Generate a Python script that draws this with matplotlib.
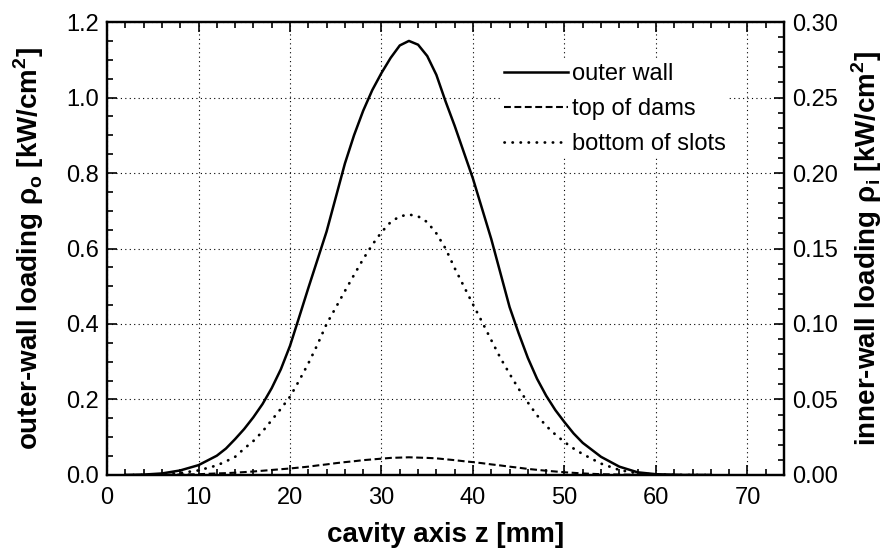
import matplotlib
matplotlib.use("Agg")
import matplotlib.pyplot as plt
from matplotlib.ticker import MultipleLocator

plt.rcParams["font.family"] = ["Liberation Sans", "DejaVu Sans"]
plt.rcParams["mathtext.fontset"] = "custom"
plt.rcParams["mathtext.rm"] = "Liberation Sans"
plt.rcParams["mathtext.bf"] = "Liberation Sans:bold"

# cavity axis position [mm]
z = [2, 4, 6, 8, 10, 12, 13,
     14, 15, 16, 17, 18, 19, 20, 21, 22, 23, 24, 25, 26, 27, 28, 29, 30,
     31, 32, 33, 34, 35, 36, 37, 38, 39, 40, 41, 42, 43, 44, 45, 46, 47,
     48, 49, 50, 51, 52,
     54, 56, 58, 60, 63, 66]

# outer-wall loading [kW/cm2] (left axis)
outer_wall = [0.0, 0.001, 0.004, 0.012, 0.026, 0.051, 0.07,
              0.095, 0.122, 0.153, 0.188, 0.23, 0.28, 0.342, 0.418, 0.495,
              0.57, 0.645, 0.735, 0.825, 0.90, 0.965, 1.02, 1.065,
              1.105, 1.138, 1.150, 1.140, 1.110, 1.06, 0.99, 0.925, 0.855,
              0.785, 0.705, 0.625, 0.535, 0.445, 0.375, 0.31, 0.255,
              0.21, 0.172, 0.14, 0.11, 0.085,
              0.048, 0.022, 0.007, 0.002, 0.0, 0.0]

# inner-wall loading [kW/cm2] (right axis)
top_of_dams = [0.0, 0.0, 0.0001, 0.0003, 0.0005, 0.001, 0.0012,
               0.0015, 0.0019, 0.0023, 0.0028, 0.0033, 0.0038, 0.0043,
               0.0049, 0.0055, 0.0063, 0.007, 0.0078, 0.0085, 0.0091,
               0.0098, 0.0103, 0.0108, 0.0113, 0.0115, 0.0117, 0.0115,
               0.0113, 0.011, 0.0104, 0.0098, 0.0091, 0.0085, 0.0078,
               0.007, 0.0063, 0.0055, 0.0048, 0.004, 0.0034, 0.0028,
               0.0023, 0.0018, 0.0014, 0.001,
               0.0005, 0.0003, 0.0001, 0.0, 0.0, 0.0]
bottom_of_slots = [0.0, 0.0, 0.0005, 0.0013, 0.003, 0.0063, 0.009,
                   0.012, 0.0175, 0.0225, 0.0288, 0.0363, 0.0438, 0.0518,
                   0.0625, 0.0738, 0.0863, 0.100, 0.1108, 0.1218, 0.1325,
                   0.143, 0.1525, 0.1608, 0.1675, 0.1713, 0.1725, 0.1713,
                   0.1675, 0.16, 0.15, 0.137, 0.125, 0.113, 0.1013, 0.0893,
                   0.0775, 0.067, 0.057, 0.048, 0.0395, 0.0325, 0.0268,
                   0.0218, 0.0175, 0.0138,
                   0.0075, 0.0033, 0.001, 0.0003, 0.0, 0.0]

fig = plt.figure(figsize=(8.94, 5.51), dpi=100)
ax1 = fig.add_axes([0.1197, 0.138, 0.7573, 0.822])
ax2 = ax1.twinx()

l1, = ax1.plot(z, outer_wall, color="black", lw=1.8, solid_joinstyle="round")
l2, = ax2.plot(z, top_of_dams, color="black", lw=1.5, linestyle=(0, (3.3, 1.7)))
l3, = ax2.plot(z, bottom_of_slots, color="black", lw=2.0,
               linestyle=(0, (0.1, 2.8)), dash_capstyle="round")

ax1.set_xlim(0, 74)
ax1.set_ylim(0, 1.2)
ax2.set_ylim(0, 0.30)

ax1.xaxis.set_major_locator(MultipleLocator(10))
ax1.xaxis.set_minor_locator(MultipleLocator(2))
ax1.yaxis.set_major_locator(MultipleLocator(0.2))
ax1.yaxis.set_minor_locator(MultipleLocator(0.05))
ax2.yaxis.set_major_locator(MultipleLocator(0.05))
ax2.yaxis.set_minor_locator(MultipleLocator(0.01))
ax1.yaxis.set_major_formatter(lambda v, p: f"{v:.1f}")
ax2.yaxis.set_major_formatter(lambda v, p: f"{v:.2f}")

ax1.grid(True, which="major", linestyle=(0, (1, 3)), color="black", lw=0.8)

ax1.tick_params(which="both", direction="in", top=True, right=False,
                labelsize=17, width=1.2)
ax1.tick_params(which="major", length=7)
ax1.tick_params(which="minor", length=4)
ax1.tick_params(axis="x", pad=9)
ax1.tick_params(axis="y", pad=6)
ax2.tick_params(which="both", direction="in", labelsize=17, width=1.2, pad=6)
ax2.tick_params(which="major", length=7)
ax2.tick_params(which="minor", length=4)

for ax in (ax1, ax2):
    for sp in ax.spines.values():
        sp.set_linewidth(1.6)

ax1.set_xlabel("cavity axis z [mm]", fontsize=20, fontweight="bold", labelpad=9)
ax1.set_ylabel(r"outer-wall loading ρ$_\mathbf{o}$ [kW/cm$^\mathbf{2}$]",
               fontsize=20, fontweight="bold", labelpad=14)
ax2.set_ylabel(r"inner-wall loading ρ$_\mathbf{i}$ [kW/cm$^\mathbf{2}$]",
               fontsize=20, fontweight="bold", labelpad=8)

leg = ax2.legend([l1, l2, l3], ["outer wall", "top of dams", "bottom of slots"],
                 loc="upper left", bbox_to_anchor=(0.566, 0.94), fontsize=17,
                 handlelength=2.7, handletextpad=0.15, labelspacing=0.55,
                 borderpad=0.1, frameon=True, fancybox=False)
leg.get_frame().set_edgecolor("none")
leg.get_frame().set_facecolor("white")
leg.get_frame().set_alpha(1)

fig.savefig("out.png", dpi=100)
